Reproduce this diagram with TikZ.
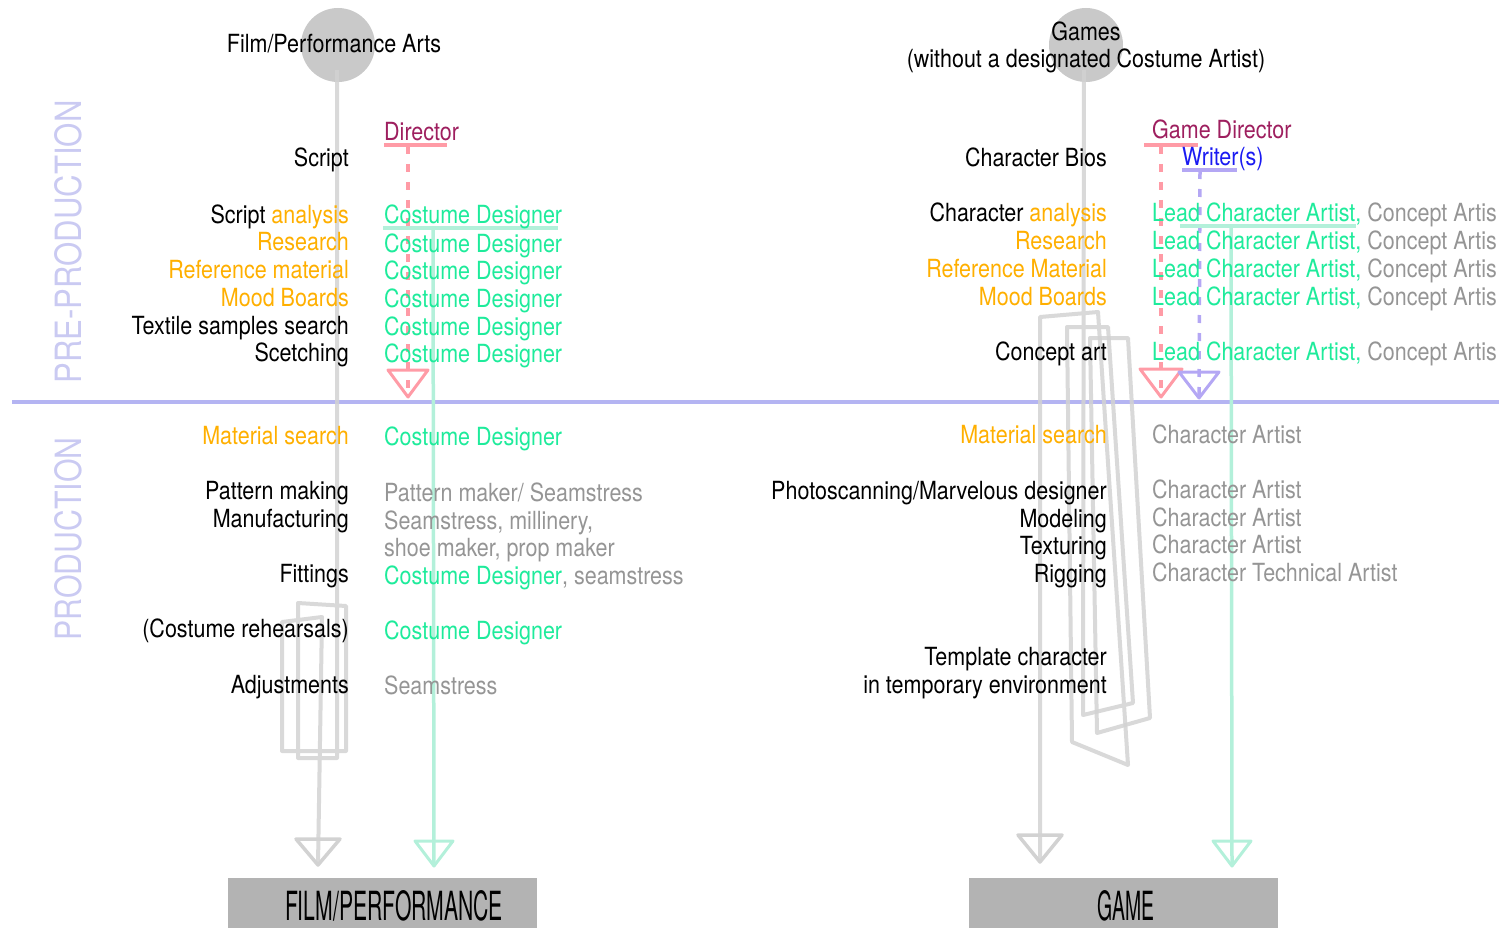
\documentclass[tikz,border=0pt]{standalone}
\usepackage{fontspec}
\setmainfont{TeX Gyre Heros}[FakeStretch=0.86]
\definecolor{flowgray}{HTML}{D2D2D2}
\definecolor{circgray}{HTML}{C9C9C9}
\definecolor{boxgray}{HTML}{B3B3B3}
\definecolor{dirmag}{HTML}{9E1F5F}
\definecolor{accor}{HTML}{FFAF00}
\definecolor{rolegreen}{HTML}{1EEB9B}
\definecolor{mint}{HTML}{B3F0DA}
\definecolor{rolegray}{HTML}{959595}
\definecolor{pinkline}{HTML}{FF9BA6}
\definecolor{lavline}{HTML}{B4A7F4}
\definecolor{phase}{HTML}{B4B4F2}
\definecolor{phasetext}{HTML}{CACAF2}
\definecolor{writerblue}{HTML}{1A1AF2}
\newcommand{\opentri}[4]{\draw[#2] (#1) ++(-#3,-#4) -- ++(2*#3,0) -- (#1) -- cycle;}
\begin{document}
\begin{tikzpicture}[x=1pt,y=-1pt,
  every node/.style={font=\fontsize{25}{30}\selectfont, inner sep=0pt},
  lbl/.style={anchor=base east},
  role/.style={anchor=base west},
  ttl/.style={anchor=base},
  acc/.style={text=accor},
  grn/.style={text=rolegreen},
  gry/.style={text=rolegray},
  flow/.style={draw=flowgray, line width=4pt, line join=round, opacity=0.85},
  mintline/.style={draw=mint, line width=3.5pt, line join=round},
  pinkdash/.style={draw=pinkline, line width=3.5pt, dash pattern=on 8pt off 10pt},
  lavdash/.style={draw=lavline, line width=3.5pt, dash pattern=on 8pt off 10pt},
  pinkul/.style={draw=pinkline, line width=3.5pt},
  lavul/.style={draw=lavline, line width=3.5pt},
  tripink/.style={draw=pinkline, line width=3pt, line join=round},
  trilav/.style={draw=lavline, line width=3pt, line join=round},
  trigray/.style={draw=flowgray, line width=3.5pt, line join=round},
  trimint/.style={draw=mint, line width=3pt, line join=round},
  boxnode/.style={fill=boxgray, minimum width=309pt, minimum height=50pt, anchor=north west},
  phaselabel/.style={text=phasetext, rotate=90}
]
\useasboundingbox (0,0) rectangle (1499,928);

% circles
\fill[circgray] (338,45) circle (37);
\fill[circgray] (1086,45) circle (37);

% phase divider
\coordinate (divL) at (12,402);
\coordinate (divR) at (1499,402);
\draw[draw=phase, line width=4pt] (divL) -- (divR);

% ---------- Film gray flow ----------
\coordinate (fC) at (337,70);
\coordinate (fa) at (337,758);
\coordinate (fb) at (298,758);
\coordinate (fc) at (298,603);
\coordinate (fd) at (346,606);
\coordinate (fe) at (346,751);
\coordinate (ff) at (282,751);
\coordinate (fg) at (282,622);
\coordinate (fh) at (322,617);
\coordinate (fTip) at (318,865);
\draw[flow] (fC) -- (fa) -- (fb) -- (fc) -- (fd) -- (fe) -- (ff) -- (fg) -- (fh) -- (fTip);
\opentri{fTip}{trigray}{22}{26}

% ---------- Game gray flow ----------
\coordinate (gC) at (1084,70);
\coordinate (ga) at (1083,715);
\coordinate (gb) at (1133,703);
\coordinate (gc) at (1108,327);
\coordinate (gd) at (1067,327);
\coordinate (ge) at (1072,742);
\coordinate (gf) at (1128,765);
\coordinate (gg) at (1098,312);
\coordinate (gh) at (1040,317);
\coordinate (gTip) at (1040,862);
\draw[flow] (gC) -- (ga) -- (gb) -- (gc) -- (gd) -- (ge) -- (gf) -- (gg) -- (gh) -- (gTip);
\coordinate (qa) at (1090,338);
\coordinate (qb) at (1128,338);
\coordinate (qc) at (1150,718);
\coordinate (qd) at (1097,733);
\draw[flow] (qa) -- (qb) -- (qc) -- (qd) -- cycle;
\opentri{gTip}{trigray}{22}{27}

% ---------- Film director / designer lines ----------
\coordinate (dirU1) at (384,145);
\coordinate (dirU2) at (447,145);
\coordinate (dirS) at (408,146);
\coordinate (dirTip) at (408,397);
\draw[pinkul] (dirU1) -- (dirU2);
\draw[pinkdash] (dirS) -- (dirTip);
\opentri{dirTip}{tripink}{20}{27}

\coordinate (cdU1) at (383,228);
\coordinate (cdU2) at (558,228);
\coordinate (cdS) at (433,228);
\coordinate (cdTip) at (434,866);
\draw[mintline] (cdU1) -- (cdU2);
\draw[mintline] (cdS) -- (cdTip);
\opentri{cdTip}{trimint}{19}{25}

% ---------- Game director / writer / lead lines ----------
\coordinate (gdU1) at (1144,145);
\coordinate (gdU2) at (1198,145);
\coordinate (gdS) at (1161,146);
\coordinate (gdTip) at (1161,397);
\draw[pinkul] (gdU1) -- (gdU2);
\draw[pinkdash] (gdS) -- (gdTip);
\opentri{gdTip}{tripink}{21}{28}

\coordinate (wrU1) at (1182,170);
\coordinate (wrU2) at (1237,170);
\coordinate (wrS) at (1200,171);
\coordinate (wrTip) at (1199,398);
\draw[lavul] (wrU1) -- (wrU2);
\draw[lavdash] (wrS) -- (wrTip);
\opentri{wrTip}{trilav}{20}{26}

\coordinate (lcU1) at (1180,226);
\coordinate (lcU2) at (1356,226);
\coordinate (lcS) at (1231,226);
\coordinate (lcTip) at (1232,866);
\draw[mintline] (lcU1) -- (lcU2);
\draw[mintline] (lcS) -- (lcTip);
\opentri{lcTip}{trimint}{19}{25}

% ---------- titles ----------
\node[ttl] (tfilm) at (334,53) {Film/Performance Arts};
\node[ttl] (tgames) at (1086,41) {Games};
\node[ttl] (tgames2) at (1086,68) {(without a designated Costume Artist)};

% ---------- phase labels ----------
\node[phaselabel] (pre) at (68,242) {\resizebox{283pt}{27pt}{PRE-PRODUCTION}};
\node[phaselabel] (prod) at (68,539) {\resizebox{203pt}{27pt}{PRODUCTION}};

% ---------- Film left labels ----------
\node[lbl] (l1) at (349,167) {Script};
\node[lbl] (l2) at (349,223) {Script \textcolor{accor}{analysis}};
\node[lbl,acc] (l3) at (349,251) {Research};
\node[lbl,acc] (l4) at (349,278) {Reference material};
\node[lbl,acc] (l5) at (349,306) {Mood Boards};
\node[lbl] (l6) at (349,334) {Textile samples search};
\node[lbl] (l7) at (349,361) {Scetching};
\node[lbl,acc] (l8) at (349,444) {Material search};
\node[lbl] (l9) at (349,499) {Pattern making};
\node[lbl] (l10) at (349,527) {Manufacturing};
\node[lbl] (l11) at (349,582) {Fittings};
\node[lbl] (l12) at (349,637) {(Costume rehearsals)};
\node[lbl] (l13) at (349,693) {Adjustments};

% ---------- Film roles ----------
\node[role,text=dirmag] (r0) at (384,141) {Director};
\node[role,grn] (r1) at (384,224) {Costume Designer};
\node[role,grn] (r2) at (384,252) {Costume Designer};
\node[role,grn] (r3) at (384,279) {Costume Designer};
\node[role,grn] (r4) at (384,307) {Costume Designer};
\node[role,grn] (r5) at (384,335) {Costume Designer};
\node[role,grn] (r6) at (384,362) {Costume Designer};
\node[role,grn] (r7) at (384,445) {Costume Designer};
\node[role,gry] (r8) at (384,501) {Pattern maker/ Seamstress};
\node[role,gry] (r9) at (384,529) {Seamstress, millinery,};
\node[role,gry] (r10) at (384,556) {shoe maker, prop maker};
\node[role,grn] (r11) at (384,584) {Costume Designer\textcolor{rolegray}{, seamstress}};
\node[role,grn] (r12) at (384,639) {Costume Designer};
\node[role,gry] (r13) at (384,694) {Seamstress};

% ---------- Game left labels ----------
\node[lbl] (m1) at (1107,167) {Character Bios};
\node[lbl] (m2) at (1107,222) {Character \textcolor{accor}{analysis}};
\node[lbl,acc] (m3) at (1107,250) {Research};
\node[lbl,acc] (m4) at (1107,277) {Reference Material};
\node[lbl,acc] (m5) at (1107,305) {Mood Boards};
\node[lbl] (m6) at (1107,360) {Concept art};
\node[lbl,acc] (m7) at (1107,443) {Material search};
\node[lbl] (m8) at (1107,499) {Photoscanning/Marvelous designer};
\node[lbl] (m9) at (1107,527) {Modeling};
\node[lbl] (m10) at (1107,554) {Texturing};
\node[lbl] (m11) at (1107,582) {Rigging};
\node[lbl] (m12) at (1107,665) {Template character};
\node[lbl] (m13) at (1107,693) {in temporary environment};

% ---------- Game roles ----------
\node[role,text=dirmag] (s0) at (1152,139) {Game Director};
\node[role,text=writerblue] (s00) at (1182,166) {Writer(s)};
\node[role,grn] (s1) at (1152,222) {Lead Character Artist, \textcolor{rolegray}{Concept Artis}};
\node[role,grn] (s2) at (1152,249) {Lead Character Artist, \textcolor{rolegray}{Concept Artis}};
\node[role,grn] (s3) at (1152,277) {Lead Character Artist, \textcolor{rolegray}{Concept Artis}};
\node[role,grn] (s4) at (1152,305) {Lead Character Artist, \textcolor{rolegray}{Concept Artis}};
\node[role,grn] (s5) at (1152,360) {Lead Character Artist, \textcolor{rolegray}{Concept Artis}};
\node[role,gry] (s6) at (1152,443) {Character Artist};
\node[role,gry] (s7) at (1152,498) {Character Artist};
\node[role,gry] (s8) at (1152,526) {Character Artist};
\node[role,gry] (s9) at (1152,553) {Character Artist};
\node[role,gry] (s10) at (1152,581) {Character Technical Artist};

% ---------- bottom boxes ----------
\node[boxnode] (filmbox) at (228,878) {};
\node[anchor=base] (filmtxt) at (394,920) {\resizebox{218pt}{30pt}{FILM/PERFORMANCE}};
\node[boxnode] (gamebox) at (969,878) {};
\node[anchor=base] (gametxt) at (1126,920) {\resizebox{57pt}{30pt}{GAME}};
\end{tikzpicture}
\end{document}
